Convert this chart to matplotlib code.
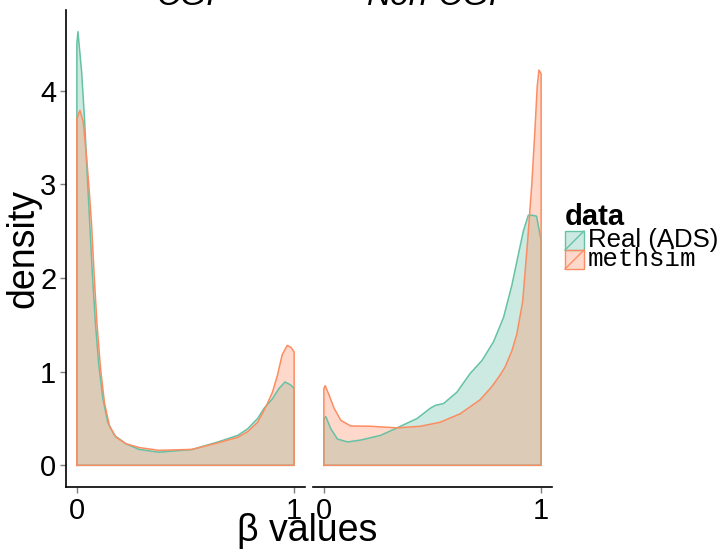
import numpy as np
import matplotlib
matplotlib.use("Agg")
import matplotlib.pyplot as plt
from matplotlib.patches import Rectangle
from matplotlib.lines import Line2D

plt.rcParams['font.family'] = ['Liberation Sans', 'DejaVu Sans']

# density curves
cgi_real_x = [0.0, 0.005, 0.022, 0.036, 0.047, 0.059, 0.071, 0.085, 0.101, 0.12, 0.142,
              0.173, 0.226, 0.286, 0.377, 0.529, 0.65, 0.741, 0.786, 0.832, 0.862, 0.9,
              0.93, 0.958, 0.983, 1.0]
cgi_real_y = [4.50, 4.63, 4.20, 3.67, 3.13, 2.60, 2.06, 1.53, 1.07, 0.71, 0.46,
              0.32, 0.23, 0.17, 0.14, 0.168, 0.25, 0.32, 0.39, 0.50, 0.61, 0.71,
              0.82, 0.89, 0.86, 0.82]
cgi_sim_x = [0.0, 0.014, 0.029, 0.044, 0.056, 0.067, 0.079, 0.092, 0.109, 0.127, 0.15,
             0.18, 0.226, 0.286, 0.377, 0.529, 0.65, 0.741, 0.786, 0.832, 0.862, 0.877,
             0.9, 0.923, 0.945, 0.968, 0.985, 1.0]
cgi_sim_y = [3.70, 3.79, 3.67, 3.31, 2.96, 2.60, 2.06, 1.53, 1.03, 0.67, 0.42,
             0.30, 0.23, 0.19, 0.16, 0.17, 0.24, 0.30, 0.36, 0.46, 0.59, 0.66,
             0.78, 0.96, 1.18, 1.28, 1.26, 1.21]
non_real_x = [0.0, 0.009, 0.032, 0.063, 0.109, 0.17, 0.261, 0.337, 0.429, 0.49, 0.513,
              0.551, 0.612, 0.673, 0.728, 0.781, 0.827, 0.865, 0.895, 0.918, 0.941,
              0.96, 0.979, 0.995, 1.0]
non_real_y = [0.50, 0.52, 0.39, 0.28, 0.25, 0.27, 0.32, 0.40, 0.50, 0.61, 0.64,
              0.66, 0.78, 0.98, 1.12, 1.32, 1.58, 1.92, 2.25, 2.50, 2.67,
              2.67, 2.66, 2.46, 2.40]
non_sim_x = [0.0, 0.006, 0.024, 0.047, 0.078, 0.124, 0.215, 0.337, 0.444, 0.535, 0.627,
             0.719, 0.773, 0.81, 0.834, 0.865, 0.888, 0.915, 0.938, 0.957, 0.972,
             0.982, 0.99, 1.0]
non_sim_y = [0.82, 0.85, 0.75, 0.61, 0.48, 0.42, 0.417, 0.40, 0.417, 0.46, 0.55,
             0.70, 0.84, 0.96, 1.05, 1.22, 1.40, 1.75, 2.40, 3.00, 3.60,
             4.05, 4.22, 4.18]

panels = ["CGI", "Non-CGI"]
series = ["Real (ADS)", "methsim"]
colors = ["#66C2A5", "#FC8D62"]
curves = {
    "CGI": [(cgi_real_x, cgi_real_y), (cgi_sim_x, cgi_sim_y)],
    "Non-CGI": [(non_real_x, non_real_y), (non_sim_x, non_sim_y)],
}

W, H = 724, 555
fig = plt.figure(figsize=(W / 100, H / 100), dpi=100)

def fx(px):
    return px / W

def fy(py):
    return 1 - py / H

axes = [fig.add_axes([fx(66), fy(487), fx(239), 477 / H]),
        fig.add_axes([fx(313), fy(487), fx(239), 477 / H])]

ymax = 4.63
for i, (ax, name) in enumerate(zip(axes, panels)):
    for (x, y), c in zip(curves[name], colors):
        xs = np.r_[x[0], x, x[-1]]
        ys = np.r_[0, y, 0]
        ax.fill(xs, ys, facecolor=c, alpha=0.33, edgecolor="none")
        ax.plot(np.r_[xs, xs[0]], np.r_[ys, 0], color=c, lw=1.1,
                solid_joinstyle="round")
    ax.set_xlim(-0.05, 1.05)
    ax.set_ylim(-0.05 * ymax, 1.05 * ymax)
    ax.set_xticks([0, 1])
    ax.set_xticklabels(["0", "1"])
    for s in ["top", "right"]:
        ax.spines[s].set_visible(False)
    ax.spines["bottom"].set_color("black")
    ax.spines["bottom"].set_linewidth(1.2)
    ax.tick_params(axis="both", colors="#7f7f7f", labelcolor="black",
                   labelsize=21, length=4, width=1, direction="out", pad=3)
    ax.text(0.5, 1.01, name, transform=ax.transAxes, ha="center", va="baseline",
            fontsize=24, style="italic")
    if i == 0:
        ax.set_yticks([0, 1, 2, 3, 4])
        ax.spines["left"].set_color("black")
        ax.spines["left"].set_linewidth(1.2)
    else:
        ax.spines["left"].set_visible(False)
        ax.set_yticks([])

axes[0].set_ylabel("density", fontsize=27, labelpad=-1)
fig.text(fx(307), fy(531), "β values", ha="center", va="center", fontsize=27)

# legend
fig.text(fx(565), fy(225), "data", fontsize=21, fontweight="bold", va="baseline")
for k, (lab, c) in enumerate(zip(series, colors)):
    y0 = 250 + k * 19
    fig.add_artist(Rectangle((fx(565), fy(y0)), fx(19), 19 / H, facecolor=c,
                             alpha=0.33, edgecolor="none", transform=fig.transFigure))
    fig.add_artist(Rectangle((fx(565), fy(y0)), fx(19), 19 / H, facecolor="none",
                             edgecolor=c, lw=1, transform=fig.transFigure))
    fig.add_artist(Line2D([fx(565), fx(584)], [fy(y0), fy(y0 - 19)], color=c, lw=1,
                          transform=fig.transFigure))
    fam = "Liberation Sans" if k == 0 else "Liberation Mono"
    fig.text(fx(588), fy(y0 - 9.5), lab, fontsize=18.5, family=fam, va="center")

fig.savefig("out.png", dpi=100)
